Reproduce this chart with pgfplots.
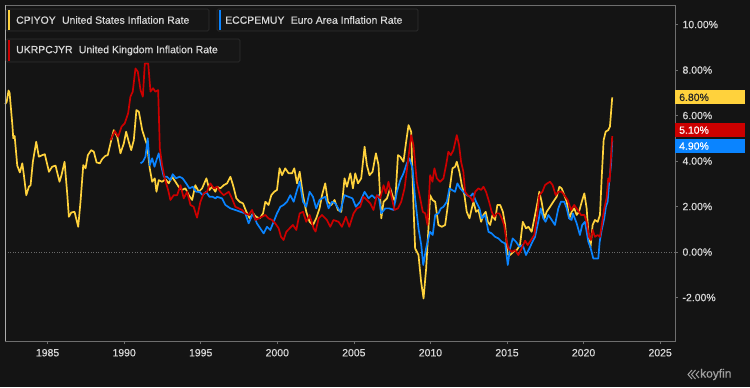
\documentclass[border=0pt]{standalone}
\usepackage{pgfplots}
\pgfplotsset{compat=1.18}
\usepackage{fontspec}
\setmainfont{Liberation Sans}
\newfontfamily\medfont{Liberation Sans}[FakeBold=0.5]
\definecolor{bg}{HTML}{141414}
\definecolor{cy}{HTML}{FFD23C}
\definecolor{cb}{HTML}{0A84FF}
\definecolor{cr}{HTML}{CC0000}
\definecolor{fr}{HTML}{6E6E6E}
\definecolor{tk}{HTML}{D8D8D8}
\definecolor{lgb}{HTML}{161616}
\definecolor{lgd}{HTML}{303030}
\definecolor{zl}{HTML}{6A6A6A}
\begin{document}
\begin{tikzpicture}[x=1bp,y=1bp]
\fill[bg] (0,0) rectangle (750,387);
\useasboundingbox (0,0) rectangle (750,387);
\begin{axis}[
  at={(5bp,46bp)}, anchor=south west,
  scale only axis, width=670bp, height=336bp,
  xmin=1982.22, xmax=2025.97, ymin=-3.91, ymax=10.86,
  clip=false,
  axis line style={fr, line width=0.8bp},
  tick align=outside, major tick length=2.5bp,
  tick style={fr, line width=0.6bp},
  xtick={1985,1990,...,2025}, xtick pos=bottom,
  ytick={-2,0,2,4,6,8,10}, ytick pos=right, yticklabel pos=right,
  /pgf/number format/assume math mode=true,
  /pgf/number format/1000 sep={},
  xticklabel style={tk, font=\medfont\fontsize{10.5}{12}\selectfont, yshift=-2bp},
  yticklabel style={tk, font=\medfont\fontsize{10.5}{12}\selectfont, anchor=west, xshift=1.5bp},
  yticklabel={\pgfmathprintnumber[fixed,fixed zerofill,precision=2]{\tick}\%},
]
\draw[zl, dotted, line width=0.6bp] (axis cs:1982.22,0) -- (axis cs:2025.97,0);
% US CPI YoY
\addplot[cy, line width=1.7bp, line join=round] coordinates {
(1982.23,6.5) (1982.33,6.6) (1982.45,7.1) (1982.52,7.0) (1982.70,5.6) (1982.76,5.0) (1982.85,5.1) (1983.02,3.8) (1983.19,3.5) (1983.35,3.9) (1983.45,3.4) (1983.61,2.5) (1983.78,2.87) (1983.89,2.94) (1984.04,3.97) (1984.26,4.85) (1984.43,4.19) (1984.65,4.26) (1984.82,4.3) (1985.09,3.53) (1985.3,3.75) (1985.52,3.8) (1985.78,3.09) (1985.91,3.38) (1986.11,3.97) (1986.29,2.5) (1986.39,1.55) (1986.55,1.74) (1986.76,1.77) (1987.0,1.11) (1987.15,2.21) (1987.33,3.82) (1987.48,3.68) (1987.63,4.26) (1987.85,4.48) (1988.02,4.41) (1988.2,3.94) (1988.41,3.9) (1988.57,4.09) (1988.78,4.23) (1988.93,4.26) (1989.11,4.78) (1989.32,5.36) (1989.55,5.07) (1989.76,4.34) (1989.98,4.78) (1990.13,5.29) (1990.3,4.85) (1990.46,4.48) (1990.63,4.92) (1990.8,6.24) (1990.96,6.17) (1991.18,5.36) (1991.35,5.0) (1991.5,4.7) (1991.67,3.68) (1991.83,3.09) (1992.0,3.24) (1992.11,2.65) (1992.26,3.16) (1992.48,3.09) (1992.7,3.2) (1992.91,3.02) (1993.13,3.31) (1993.35,3.09) (1993.56,2.87) (1993.78,2.73) (1994.0,2.8) (1994.22,2.5) (1994.44,2.29) (1994.65,2.94) (1994.87,2.65) (1995.09,2.8) (1995.37,3.24) (1995.57,2.73) (1995.74,2.87) (1995.96,2.65) (1996.07,2.87) (1996.28,2.8) (1996.5,2.94) (1996.72,3.02) (1996.94,3.31) (1997.11,2.94) (1997.33,2.36) (1997.54,2.21) (1997.76,2.14) (1997.98,1.77) (1998.2,1.48) (1998.41,1.7) (1998.63,1.55) (1998.85,1.48) (1999.07,1.7) (1999.22,2.21) (1999.43,2.07) (1999.61,2.5) (1999.8,2.65) (1999.98,2.73) (2000.15,3.68) (2000.31,3.38) (2000.52,3.68) (2000.74,3.46) (2000.96,3.46) (2001.11,3.68) (2001.29,3.02) (2001.46,3.53) (2001.68,2.5) (2001.89,1.77) (2002.11,1.33) (2002.33,1.19) (2002.54,1.48) (2002.76,1.92) (2002.92,2.5) (2003.13,3.02) (2003.31,2.21) (2003.53,2.07) (2003.74,2.29) (2003.96,1.85) (2004.18,1.77) (2004.39,3.24) (2004.55,2.87) (2004.77,3.46) (2004.94,2.8) (2005.09,3.46) (2005.27,3.02) (2005.48,3.24) (2005.7,4.63) (2005.85,3.82) (2006.02,3.38) (2006.22,3.53) (2006.44,4.34) (2006.61,3.82) (2006.79,1.48) (2006.94,2.21) (2007.16,2.36) (2007.37,2.8) (2007.55,2.43) (2007.7,2.21) (2007.88,4.26) (2008.03,4.19) (2008.24,3.97) (2008.4,4.78) (2008.57,5.58) (2008.74,5.29) (2008.89,2.07) (2009.0,0.16) (2009.22,-0.13) (2009.39,-1.3) (2009.55,-2.04) (2009.72,-0.72) (2009.87,1.04) (2009.98,2.5) (2010.13,2.29) (2010.31,2.21) (2010.52,1.19) (2010.74,1.11) (2010.96,1.19) (2011.11,1.92) (2011.29,2.94) (2011.44,3.68) (2011.61,3.75) (2011.72,3.97) (2011.89,3.53) (2012.05,2.94) (2012.22,2.5) (2012.37,1.77) (2012.55,1.48) (2012.7,1.92) (2012.81,2.21) (2012.98,1.77) (2013.13,1.85) (2013.31,1.33) (2013.46,1.63) (2013.61,1.77) (2013.75,1.33) (2013.9,1.19) (2014.05,1.63) (2014.22,1.41) (2014.37,2.07) (2014.55,2.07) (2014.73,1.77) (2014.88,1.19) (2015.03,-0.1) (2015.2,-0.13) (2015.42,0.01) (2015.64,0.09) (2015.85,0.31) (2016.03,1.33) (2016.24,1.04) (2016.4,1.11) (2016.61,0.89) (2016.83,1.63) (2017.0,2.21) (2017.11,2.65) (2017.26,2.21) (2017.44,1.48) (2017.59,1.77) (2017.81,1.99) (2018.02,2.21) (2018.24,2.43) (2018.42,2.87) (2018.57,2.8) (2018.74,2.5) (2018.9,2.21) (2019.07,1.48) (2019.22,1.77) (2019.39,1.92) (2019.55,1.63) (2019.7,1.77) (2019.88,2.21) (2020.05,2.58) (2020.2,1.92) (2020.35,0.5) (2020.45,0.2) (2020.59,1.19) (2020.74,1.41) (2020.92,1.33) (2021.07,1.63) (2021.18,3.24) (2021.31,4.92) (2021.44,5.29) (2021.61,5.36) (2021.72,5.51) (2021.87,6.8)
};
% Euro Area HICP YoY
\addplot[cb, line width=1.7bp, line join=round] coordinates {
(1991.07,3.9) (1991.22,3.97) (1991.39,4.19) (1991.54,5.0) (1991.67,3.82) (1991.83,4.12) (1991.98,3.75) (1992.11,4.04) (1992.26,4.34) (1992.41,3.82) (1992.59,3.31) (1992.8,3.31) (1993.02,3.16) (1993.17,3.42) (1993.39,3.24) (1993.61,3.31) (1993.82,3.24) (1994.05,3.02) (1994.26,2.8) (1994.48,2.87) (1994.7,2.65) (1994.91,2.65) (1995.13,2.5) (1995.35,2.65) (1995.57,2.43) (1995.78,2.43) (1995.96,2.36) (1996.07,2.43) (1996.39,2.36) (1996.61,2.07) (1996.94,1.92) (1997.26,1.85) (1997.59,1.77) (1997.91,1.7) (1998.13,1.26) (1998.41,1.7) (1998.67,1.26) (1998.89,1.04) (1999.11,0.82) (1999.33,1.11) (1999.54,0.97) (1999.76,1.33) (1999.98,1.7) (2000.2,1.99) (2000.41,2.07) (2000.63,2.21) (2000.85,2.5) (2001.07,2.21) (2001.29,2.73) (2001.46,3.09) (2001.68,2.21) (2001.89,1.99) (2002.11,2.65) (2002.33,2.43) (2002.54,1.92) (2002.76,2.29) (2002.92,2.36) (2003.13,2.43) (2003.35,1.92) (2003.57,2.21) (2003.78,2.14) (2004.11,1.77) (2004.39,2.5) (2004.65,2.43) (2004.91,2.36) (2005.13,1.99) (2005.41,2.21) (2005.7,2.65) (2005.96,2.36) (2006.18,2.5) (2006.39,2.36) (2006.61,2.5) (2006.79,1.7) (2007.05,1.92) (2007.31,1.92) (2007.59,1.85) (2007.81,2.65) (2008.03,3.16) (2008.24,3.46) (2008.46,3.9) (2008.63,4.12) (2008.83,3.68) (2009.0,2.36) (2009.22,1.04) (2009.4,0.31) (2009.53,-0.57) (2009.7,0.1) (2009.81,0.45) (2009.98,0.89) (2010.15,0.75) (2010.31,1.63) (2010.52,1.7) (2010.68,1.92) (2010.85,1.99) (2011.07,2.21) (2011.24,2.8) (2011.4,2.73) (2011.61,2.65) (2011.76,3.02) (2011.94,2.8) (2012.15,2.65) (2012.37,2.5) (2012.59,2.43) (2012.77,2.58) (2012.98,2.21) (2013.2,1.92) (2013.35,1.48) (2013.57,1.63) (2013.79,0.89) (2014.0,0.82) (2014.22,0.67) (2014.44,0.6) (2014.66,0.45) (2014.88,0.38) (2015.05,-0.57) (2015.2,0.16) (2015.37,0.6) (2015.59,0.45) (2015.81,0.23) (2016.03,0.31) (2016.24,-0.13) (2016.46,0.16) (2016.61,0.38) (2016.83,0.67) (2017.04,1.33) (2017.2,1.92) (2017.37,1.48) (2017.52,1.33) (2017.7,1.63) (2017.92,1.41) (2018.13,1.19) (2018.35,1.92) (2018.52,2.21) (2018.74,2.21) (2018.9,1.92) (2019.05,1.48) (2019.22,1.41) (2019.3,1.7) (2019.55,1.26) (2019.76,0.75) (2019.91,1.19) (2020.09,1.33) (2020.31,0.45) (2020.44,0.23) (2020.63,-0.28) (2020.96,-0.28) (2021.05,0.45) (2021.18,0.97) (2021.35,1.48) (2021.46,2.0) (2021.57,2.21) (2021.68,3.16) (2021.79,3.82) (2021.87,4.9)
};
% UK CPI YoY
\addplot[cr, line width=1.7bp, line join=round] coordinates {
(1989.11,4.92) (1989.39,5.32) (1989.61,5.07) (1989.83,5.51) (1990.04,5.66) (1990.26,6.1) (1990.41,6.83) (1990.56,7.05) (1990.74,8.07) (1990.89,7.93) (1991.07,7.12) (1991.22,6.83) (1991.35,8.29) (1991.57,8.29) (1991.72,7.05) (1991.89,7.2) (1992.04,7.05) (1992.22,7.12) (1992.33,4.56) (1992.48,3.82) (1992.65,3.24) (1992.87,2.73) (1993.02,2.29) (1993.24,2.5) (1993.46,2.5) (1993.68,2.94) (1993.89,2.36) (1994.11,2.65) (1994.33,2.07) (1994.54,1.99) (1994.76,1.51) (1994.98,2.21) (1995.2,2.58) (1995.41,2.65) (1995.63,3.02) (1995.85,2.8) (1996.07,2.87) (1996.28,2.65) (1996.5,2.5) (1996.83,2.65) (1997.04,2.36) (1997.26,1.99) (1997.48,1.92) (1997.7,1.85) (1997.91,1.7) (1998.13,1.63) (1998.35,1.85) (1998.57,1.41) (1998.78,1.48) (1999.0,1.55) (1999.22,1.63) (1999.43,1.48) (1999.65,1.41) (1999.87,1.26) (2000.09,1.04) (2000.24,0.67) (2000.41,0.53) (2000.59,0.89) (2000.8,1.04) (2001.02,1.19) (2001.24,0.97) (2001.46,1.7) (2001.68,1.77) (2001.89,1.33) (2002.11,1.63) (2002.37,1.04) (2002.5,0.9) (2002.7,1.48) (2002.92,1.63) (2003.24,1.41) (2003.46,1.11) (2003.67,1.41) (2004.0,1.33) (2004.22,1.11) (2004.48,1.55) (2004.7,1.11) (2004.98,1.7) (2005.2,1.92) (2005.41,1.99) (2005.63,2.43) (2005.85,2.29) (2006.07,2.14) (2006.28,1.85) (2006.5,2.5) (2006.72,2.36) (2006.94,2.94) (2007.09,2.58) (2007.26,3.09) (2007.44,2.5) (2007.65,1.85) (2007.88,1.92) (2008.09,2.21) (2008.31,2.8) (2008.53,3.97) (2008.74,5.14) (2008.89,4.7) (2009.11,3.09) (2009.33,2.36) (2009.5,1.77) (2009.66,1.7) (2009.81,1.19) (2009.98,3.38) (2010.13,3.09) (2010.26,3.68) (2010.42,3.24) (2010.63,3.09) (2010.85,3.24) (2011.02,3.82) (2011.17,4.41) (2011.33,4.26) (2011.5,4.48) (2011.72,5.14) (2011.87,4.7) (2012.0,3.97) (2012.15,3.53) (2012.26,2.65) (2012.42,2.5) (2012.59,2.43) (2012.77,2.21) (2012.92,2.65) (2013.13,2.8) (2013.31,2.73) (2013.46,2.87) (2013.63,2.65) (2013.83,2.21) (2014.0,1.77) (2014.16,1.55) (2014.33,1.7) (2014.5,1.7) (2014.66,1.48) (2014.81,1.19) (2014.94,0.6) (2015.09,0.16) (2015.31,0.01) (2015.53,0.09) (2015.74,-0.13) (2015.96,0.16) (2016.18,0.5) (2016.35,0.31) (2016.57,0.53) (2016.78,0.75) (2016.94,1.48) (2017.11,2.5) (2017.31,2.65) (2017.48,2.94) (2017.63,3.02) (2017.81,3.09) (2017.98,2.94) (2018.18,2.5) (2018.35,2.65) (2018.57,2.65) (2018.74,2.5) (2018.96,2.29) (2019.18,1.85) (2019.39,2.07) (2019.61,1.85) (2019.83,1.63) (2020.05,1.63) (2020.2,1.33) (2020.35,0.67) (2020.48,0.53) (2020.59,0.97) (2020.74,0.67) (2020.92,0.75) (2021.07,0.67) (2021.22,1.33) (2021.35,1.92) (2021.5,2.36) (2021.61,3.24) (2021.7,3.09) (2021.79,4.2) (2021.87,5.1)
};
% value badges
\node[fill=cy, text=black!85, anchor=west, inner xsep=4bp, inner ysep=0pt, text width=62bp, align=left, minimum height=14bp, font=\medfont\fontsize{10.5}{12}\selectfont] at (axis cs:2025.97,6.8) {6.80\%};
\node[fill=cr, text=white, anchor=west, inner xsep=4bp, inner ysep=0pt, text width=62bp, align=left, minimum height=14bp, font=\medfont\fontsize{10.5}{12}\selectfont] at (axis cs:2025.97,5.36) {5.10\%};
\node[fill=cb, text=white, anchor=west, inner xsep=4bp, inner ysep=0pt, text width=62bp, align=left, minimum height=14bp, font=\medfont\fontsize{10.5}{12}\selectfont] at (axis cs:2025.97,4.66) {4.90\%};
\end{axis}
% left axis line brighter
\draw[gray!65, line width=0.9bp] (5,46) -- (5,382);
% legend boxes
\tikzset{lgbox/.style={fill=lgb, draw=lgd, line width=0.7bp, rounded corners=1.5bp}}
\draw[lgbox] (6,356) rectangle (209,378);
\fill[cy] (8.3,357.2) rectangle (10.3,376.8);
\node[anchor=west, inner sep=0, text=tk, font=\medfont\fontsize{10.5}{12}\selectfont] at (16,367) {CPIYOY\hspace{0.6em}United States Inflation Rate};
\draw[lgbox] (217,356) rectangle (418,378);
\fill[cb] (219.3,357.2) rectangle (221.3,376.8);
\node[anchor=west, inner sep=0, text=tk, font=\medfont\fontsize{10.5}{12}\selectfont] at (225,367) {ECCPEMUY\hspace{0.6em}Euro Area Inflation Rate};
\draw[lgbox] (6,325) rectangle (240,348);
\fill[cr] (8.3,326.2) rectangle (10.3,346.8);
\node[anchor=west, inner sep=0, text=tk, font=\medfont\fontsize{10.5}{12}\selectfont] at (16,336.5) {UKRPCJYR\hspace{0.6em}United Kingdom Inflation Rate};
% koyfin logo
\draw[gray!75, line width=1bp] (692,17) -- (688,12.5) -- (692,8);
\draw[gray!75, line width=1bp] (695.5,17) -- (691.5,12.5) -- (695.5,8);
\draw[gray!75, line width=1bp] (699,16) -- (696,12.5) -- (699,9);
\node[anchor=west, inner sep=0, text=gray!75, font=\medfont\fontsize{12}{14}\selectfont] at (700,12.5) {koyfin};
\end{tikzpicture}
\end{document}
